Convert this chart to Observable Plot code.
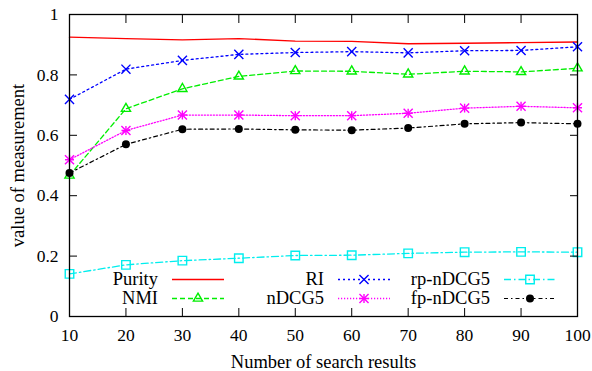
<!DOCTYPE html>
<html><head><meta charset="utf-8">
<script src="https://cdn.jsdelivr.net/npm/d3@7"></script>
<script src="https://cdn.jsdelivr.net/npm/@observablehq/plot@0.6"></script>
<style>
body{margin:0;background:#fff}
#chart svg{display:block}
#chart svg text{font-family:'Liberation Serif','Times New Roman',serif !important}
</style>
</head><body><div id="chart"></div>
<script>
const results = [10, 20, 30, 40, 50, 60, 70, 80, 90, 100];
const purity = [0.925, 0.920, 0.916, 0.920, 0.912, 0.911, 0.903, 0.905, 0.907, 0.909];
const ri     = [0.719, 0.819, 0.848, 0.868, 0.874, 0.877, 0.873, 0.880, 0.881, 0.893];
const nmi    = [0.467, 0.688, 0.754, 0.795, 0.813, 0.812, 0.802, 0.812, 0.810, 0.822];
const ndcg5  = [0.519, 0.616, 0.667, 0.667, 0.665, 0.665, 0.673, 0.690, 0.696, 0.691];
const rpNdcg5 = [0.141, 0.171, 0.185, 0.193, 0.202, 0.203, 0.209, 0.213, 0.214, 0.213];
const fpNdcg5 = [0.475, 0.570, 0.620, 0.621, 0.618, 0.617, 0.624, 0.638, 0.642, 0.638];
const xTicks = [10, 20, 30, 40, 50, 60, 70, 80, 90, 100];
const yTicks = [0, 0.2, 0.4, 0.6, 0.8, 1];
const xLabel = "Number of search results";
const yLabel = "value of measurement";

const series = [
  {name: "Purity",   values: purity,  color: "#ff0000", dash: null,        width: 1.4, symbols: []},
  {name: "NMI",      values: nmi,     color: "#00ee00", dash: "5,3",       width: 1.3, symbols: [["triangle2", 4.4]]},
  {name: "RI",       values: ri,      color: "#0000ff", dash: "2,3",       width: 1.3, symbols: [["times", 4.2]]},
  {name: "nDCG5",    values: ndcg5,   color: "#ff00ff", dash: "1.2,1.8",   width: 1.3, symbols: [["plus", 3], ["times", 4.2]]},
  {name: "rp-nDCG5", values: rpNdcg5, color: "#00eeee", dash: "7,3,1.5,3", width: 1.3, symbols: [["square", 4.8]]},
  {name: "fp-nDCG5", values: fpNdcg5, color: "#000000", dash: "4,3,1.5,3", width: 1.2, symbols: [["circle", 4], "filled"]}
];

const rows = series.flatMap(s => results.map((x, i) => ({series: s.name, x, y: s.values[i]})));

const marks = [];
for (const s of series) {
  const data = rows.filter(d => d.series === s.name);
  marks.push(Plot.line(data, {x: "x", y: "y", stroke: s.color, strokeWidth: s.width, strokeDasharray: s.dash}));
  const filled = s.symbols.includes("filled");
  for (const sym of s.symbols) {
    if (!Array.isArray(sym)) continue;
    marks.push(Plot.dot(data, {x: "x", y: "y", symbol: () => sym[0], r: sym[1],
      stroke: filled ? "none" : s.color, fill: filled ? s.color : "none", strokeWidth: 1.4}));
  }
}

const W = 592, H = 371, mL = 69, mR = 15, mT = 14, mB = 55;
const FONT = "'Liberation Serif', 'Times New Roman', serif";

const plot = Plot.plot({
  width: W, height: H,
  marginLeft: mL, marginRight: mR, marginTop: mT, marginBottom: mB,
  style: {fontFamily: FONT, fontSize: "17.5px", color: "black", background: "white", overflow: "visible"},
  x: {domain: [10, 100]},
  y: {domain: [0, 1]},
  marks: [
    ...marks,
    Plot.axisX(xTicks, {anchor: "bottom", tickSize: -8, tickPadding: 20, label: null, tickFormat: d => String(d), strokeWidth: 1, fontSize: 17.5}),
    Plot.axisX(xTicks, {anchor: "top", tickSize: -8, label: null, tickFormat: () => "", strokeWidth: 1}),
    Plot.axisY(yTicks, {anchor: "left", tickSize: -8, tickPadding: 19, label: null, tickFormat: d => String(d), strokeWidth: 1, fontSize: 17.5}),
    Plot.axisY(yTicks, {anchor: "right", tickSize: -8, label: null, tickFormat: () => "", strokeWidth: 1}),
    Plot.frame({stroke: "black", strokeWidth: 1.3}),
    Plot.text([xLabel], {frameAnchor: "bottom", text: d => d, dy: 45.1, fill: "black", fontSize: 18.5, textAnchor: "middle", lineAnchor: "middle"}),
    Plot.text([yLabel], {frameAnchor: "left", text: d => d, rotate: -90, dx: -51.9, fill: "black", fontSize: 18.5, textAnchor: "middle", lineAnchor: "middle"})
  ]
});

document.getElementById("chart").appendChild(plot);

// Legend (inside the plot, 3 columns x 2 rows, gnuplot style)
const svg = d3.select(plot);
const lg = svg.append("g").attr("class", "legend")
  .attr("font-family", FONT).attr("font-size", 18.5);
const colText = [158, 324, 490];
const rowY = [279.5, 298.5];
const symMap = {triangle2: d3.symbolTriangle2, times: d3.symbolTimes, plus: d3.symbolPlus, square: d3.symbolSquare, circle: d3.symbolCircle};
series.forEach((s, i) => {
  const c = Math.floor(i / 2), r = i % 2;
  const tx = colText[c], y = rowY[r];
  const x0 = tx + 14, x1 = tx + 66, xm = (x0 + x1) / 2;
  lg.append("text").attr("x", tx).attr("y", y + 5.8).attr("text-anchor", "end").attr("fill", "black").text(s.name);
  lg.append("line").attr("x1", x0).attr("x2", x1).attr("y1", y).attr("y2", y)
    .attr("stroke", s.color).attr("stroke-width", s.width).attr("stroke-dasharray", s.dash);
  const filled = s.symbols.includes("filled");
  for (const sym of s.symbols) {
    if (!Array.isArray(sym)) continue;
    lg.append("path").attr("transform", `translate(${xm},${y})`)
      .attr("d", d3.symbol(symMap[sym[0]], Math.PI * sym[1] * sym[1])())
      .attr("stroke", filled ? "none" : s.color).attr("fill", filled ? s.color : "none").attr("stroke-width", 1.4);
  }
});
</script>
</body></html>
